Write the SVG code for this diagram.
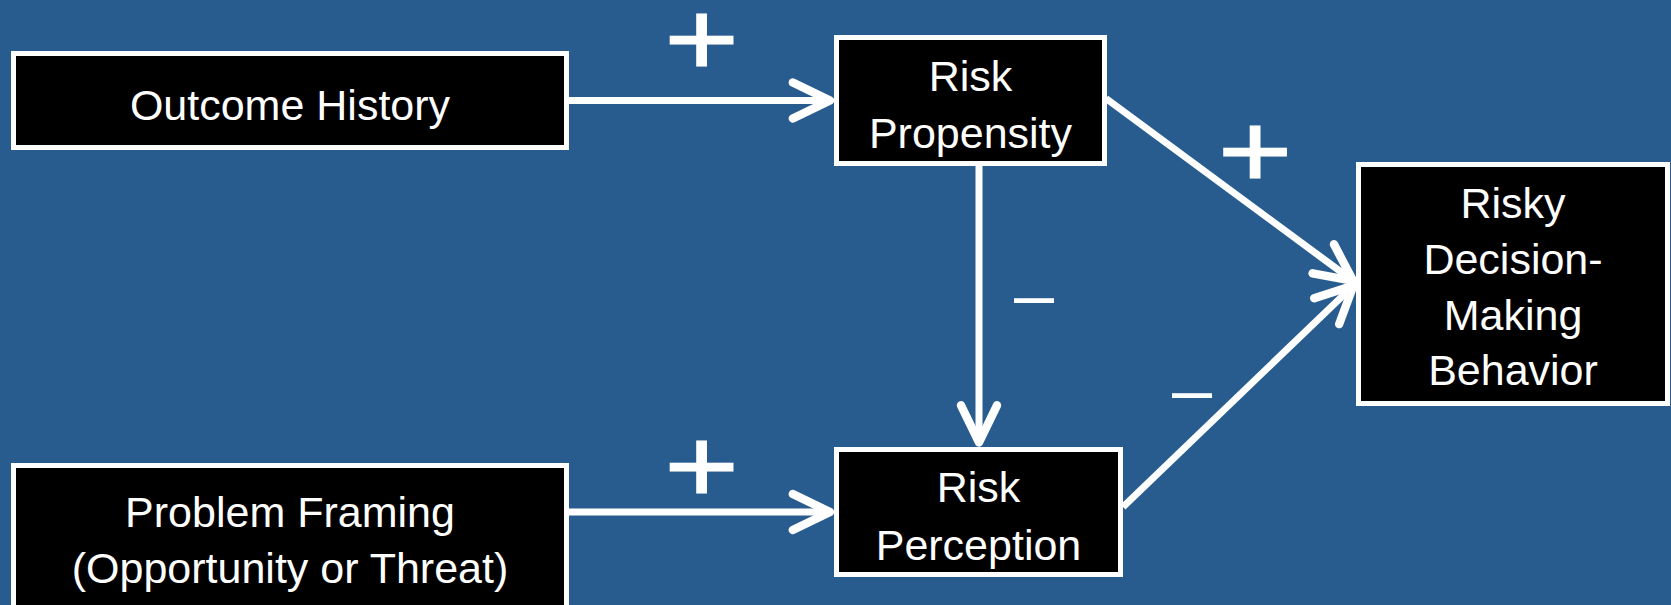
<svg xmlns="http://www.w3.org/2000/svg" width="1671" height="605" viewBox="0 0 1671 605">
  <style>
    .box { fill: #000000; stroke: #ffffff; stroke-width: 5; }
    .lbl { fill: #ffffff; font-family: "Liberation Sans", Arial, sans-serif; font-size: 43px; text-anchor: middle; }
    .sign { fill: #ffffff; font-family: "Liberation Sans", Arial, sans-serif; text-anchor: middle; }
    .conn { stroke: #ffffff; stroke-width: 7; fill: none; marker-end: url(#arrow); }
  </style>
  <defs>
    <marker id="arrow" markerUnits="userSpaceOnUse" orient="auto" refX="0" refY="0" markerWidth="60" markerHeight="60" viewBox="-40 -25 50 50" overflow="visible">
      <path d="M-31,-15 L0,0 L-31,15" fill="none" stroke="#ffffff" stroke-width="7" stroke-linecap="round" stroke-linejoin="round"/>
    </marker>
  </defs>
  <rect x="0" y="0" width="1671" height="605" fill="#285C8F"/>

  <g id="connectors">
    <line class="conn" x1="569" y1="100.5" x2="830" y2="100.5"/>
    <line class="conn" x1="569" y1="512" x2="830" y2="512"/>
    <line class="conn" x1="979" y1="166" x2="979" y2="442.5"/>
    <line class="conn" x1="1106" y1="98.5" x2="1353.2" y2="280.9"/>
    <line class="conn" x1="1123" y1="507" x2="1353.5" y2="285.4"/>
  </g>

  <g id="signs">
    <g transform="translate(701.5,37.5) scale(1,0.82)"><text class="sign" x="0" y="46" font-size="128" stroke="#ffffff" stroke-width="1.5">+</text></g>
    <g transform="translate(701.5,464) scale(1,0.82)"><text class="sign" x="0" y="46" font-size="128" stroke="#ffffff" stroke-width="1.5">+</text></g>
    <g transform="translate(1255,149) scale(1,0.82)"><text class="sign" x="0" y="46" font-size="128" stroke="#ffffff" stroke-width="1.5">+</text></g>
    <text class="sign" x="1034" y="318.5" font-size="72">–</text>
    <text class="sign" x="1192" y="413.5" font-size="72">–</text>
  </g>

  <g id="outcome-history">
    <rect class="box" x="13.5" y="53.5" width="553" height="94"/>
    <text class="lbl" x="290" y="120">Outcome History</text>
  </g>

  <g id="risk-propensity">
    <rect class="box" x="836.5" y="37.5" width="268" height="126"/>
    <text class="lbl" x="970.5" y="91">Risk</text>
    <text class="lbl" x="970.5" y="148">Propensity</text>
  </g>

  <g id="risky-decision-making-behavior">
    <rect class="box" x="1358.5" y="164.5" width="309" height="239"/>
    <text class="lbl" x="1513" y="218">Risky</text>
    <text class="lbl" x="1513" y="274">Decision-</text>
    <text class="lbl" x="1513" y="329.5">Making</text>
    <text class="lbl" x="1513" y="385">Behavior</text>
  </g>

  <g id="problem-framing">
    <rect class="box" x="13.5" y="465.5" width="553" height="200"/>
    <text class="lbl" x="290" y="527">Problem Framing</text>
    <text class="lbl" x="290" y="583">(Opportunity or Threat)</text>
  </g>

  <g id="risk-perception">
    <rect class="box" x="836.5" y="449.5" width="284" height="125"/>
    <text class="lbl" x="978.5" y="502">Risk</text>
    <text class="lbl" x="978.5" y="560">Perception</text>
  </g>
</svg>
